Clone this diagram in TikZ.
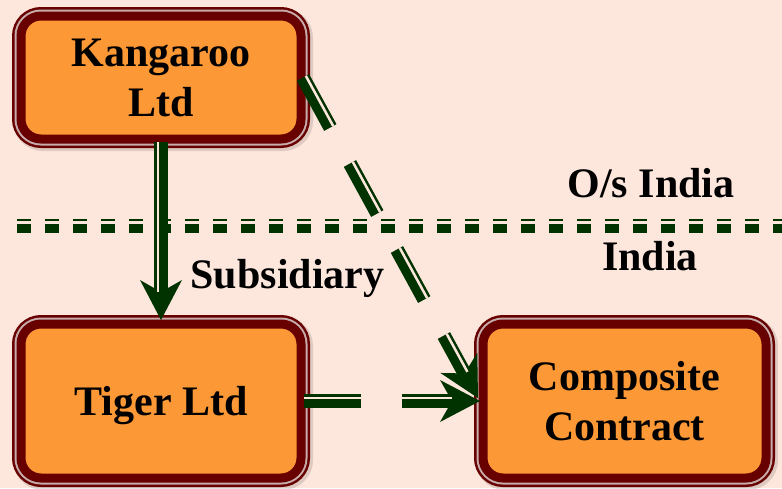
\documentclass[tikz,border=0pt]{standalone}
\usepackage{fontspec}
\setmainfont{Liberation Serif}
\usetikzlibrary{arrows.meta,positioning,calc}
\definecolor{pagebg}{RGB}{253,230,220}
\definecolor{boxfill}{RGB}{252,152,54}
\definecolor{boxedge}{RGB}{104,0,0}
\definecolor{boxrim}{RGB}{200,172,172}
\definecolor{linkgreen}{RGB}{0,51,0}
\tikzset{
  box/.style={draw=boxedge,line width=9pt,fill=boxfill,rounded corners=20pt,
    preaction={draw=black,opacity=0.12,line width=20pt,transform canvas={shift={(2pt,-2pt)}}},
    preaction={draw=boxedge,line width=18pt},
    preaction={draw=boxrim,line width=13pt},
    align=center,inner sep=0pt,outer sep=0pt,font=\fontsize{42}{50}\selectfont\bfseries},
  lbl/.style={font=\fontsize{42}{50}\selectfont\bfseries,anchor=base,inner sep=0pt},
  link/.style={draw=linkgreen,line width=14pt},
  gap/.style={draw=pagebg,line width=2.5pt},
  longdash/.style={dash pattern=on 57pt off 41pt},
  tip/.style={-{Stealth[length=40pt,width=42pt,inset=12pt,line width=0pt]}},
}
\begin{document}
\begin{tikzpicture}[x=1pt,y=-1pt]
 \useasboundingbox (0,0) rectangle (782,488);
 \fill[pagebg] (0,0) rectangle (782,488);
 % companies and contract
 \node[box,minimum width=280pt,minimum height=123pt] (kang) at (161,77.5) {Kangaroo\\Ltd};
 \node[box,minimum width=280pt,minimum height=154pt,text depth=0pt,below=185pt of kang] (tiger) {Tiger Ltd};
 \node[box,minimum width=283pt,minimum height=154pt,right=182pt of tiger] (comp) {Composite\\Contract};
 % border line
 \coordinate (sepL) at (17,226);
 \coordinate (sepR) at (782,226);
 \draw[link,dash pattern=on 14pt off 14pt] (sepL) -- (sepR);
 \draw[gap,dash pattern=on 14pt off 14pt] ([yshift=3.75pt]sepL) -- ([yshift=3.75pt]sepR);
 \node[lbl] (outside) at (651,197) {O/s India};
 \node[lbl] (inside) at (650,270) {India};
 % subsidiary link
 \coordinate (vA) at ([yshift=-3pt]kang.south);
 \coordinate (vB) at ([yshift=4pt]tiger.north);
 \draw[link,tip] (vA) -- (vB);
 \draw[gap,shorten >=28pt] ($(vA)!3.25pt!-90:(vB)$) -- ($(vB)!3.25pt!90:(vA)$);
 \node[lbl] (subs) at (287.5,288) {Subsidiary};
 % contract links
 \coordinate (hA) at ([xshift=3pt]tiger.east);
 \coordinate (hB) at ([xshift=-3pt]comp.west);
 \draw[link,longdash,tip] (hA) -- (hB);
 \draw[gap,longdash,shorten >=28pt] ($(hA)!3.25pt!90:(hB)$) -- ($(hB)!3.25pt!-90:(hA)$);
 \coordinate (dA) at ([xshift=2pt]kang.east);
 \coordinate (dB) at ([xshift=-5pt,yshift=3pt]comp.west);
 \draw[link,longdash,tip] (dA) -- (dB);
 \draw[gap,longdash,shorten >=28pt] ($(dA)!3.25pt!90:(dB)$) -- ($(dB)!3.25pt!-90:(dA)$);
\end{tikzpicture}
\end{document}
